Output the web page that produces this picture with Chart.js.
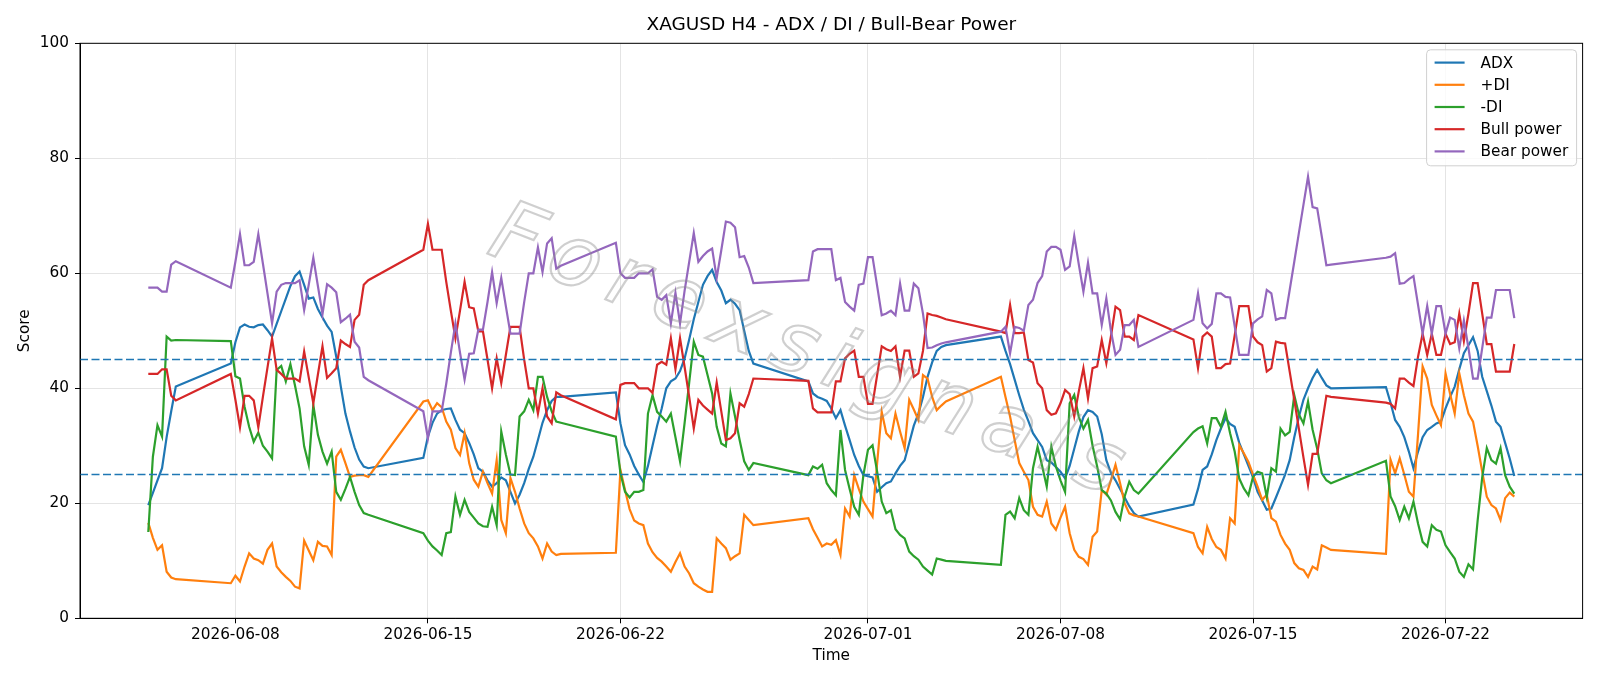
<!DOCTYPE html>
<html>
<head>
<meta charset="utf-8">
<title>XAGUSD H4 - ADX / DI / Bull-Bear Power</title>
<script src="https://cdn.jsdelivr.net/npm/chart.js@4.4.1/dist/chart.umd.min.js"></script>
<style>
    html, body { margin: 0; padding: 0; background: #fff; }
    #wrap { width: 1600px; height: 686px; }
</style>
</head>
<body>
<div id="wrap"><canvas id="adxChart" width="1600" height="686"></canvas></div>
<script>
// H4 bars come in blocks (market closed at the weekend): first bar of each block and its bar count
const sessionStarts = ['2026-06-04T20:00', '2026-06-07T20:00', '2026-06-14T20:00', '2026-06-21T20:00',
    '2026-06-28T20:00', '2026-07-05T20:00', '2026-07-12T20:00', '2026-07-19T20:00'];
const sessionBars = [7, 31, 31, 31, 31, 31, 31, 29];

const tickLabels = ['2026-06-08', '2026-06-15', '2026-06-22', '2026-07-01', '2026-07-08', '2026-07-15', '2026-07-22'];
const levels = [45, 25];

const adx = [
    19.7, 21.8, 24, 26.1, 31.5, 36, 40.3,
    44.3, 48, 50.6, 51.1, 50.7, 50.6, 51.0, 51.1, 50.1, 49.0, 51.2, 53.4, 55.6, 57.8, 59.5, 60.3, 58.0, 55.6, 55.8, 53.8, 52.3, 50.9, 49.8, 45.5, 40.3, 35.6, 32.5, 29.7, 27.6, 26.4, 26.1,
    27.9, 31.6, 34, 35.6, 36.2, 36.4, 36.5, 34.5, 32.8, 32.2, 30.5, 28.5, 26.1, 25.5, 24.0, 22.9, 23.5, 24.5, 24, 22, 20, 21.5, 23.5, 26, 28.1, 31, 34, 36.2, 37.8, 38.5, 38.5,
    39.3, 33.9, 30.1, 28.5, 26.5, 25, 23.7, 26.5, 30, 33.5, 36.5, 40, 41.2, 41.7, 43, 45.2, 48.5, 52, 55, 58, 59.5, 60.6, 58.5, 57, 54.8, 55.4, 54.7, 53.6, 50, 46.5, 44.3,
    41.2, 39.1, 38.5, 38.2, 37.8, 36.5, 34.8, 36.2, 33.5, 31, 28.4, 26.5, 24.9, 24.7, 24.5, 22, 22.8, 23.5, 23.8, 25.2, 26.5, 27.5, 30.5, 33.5, 35.6, 38.5, 42, 44.5, 46.5, 47.2, 47.5,
    49, 46.5, 44.2, 41.5, 38.8, 36.3, 34.3, 32.2, 31, 29.8, 27.5, 27.1, 26.3, 25.5, 24.35, 26.5, 29.5, 32.5, 35, 36.2, 35.9, 35.1, 32, 27.5, 25.3, 24, 22.5, 21, 19.5, 18.3, 17.7,
    19.8, 22.5, 25.8, 26.4, 28.5, 31, 33, 34.8, 33.8, 33.3, 30.5, 28.5, 26.5, 24.5, 22, 20.5, 18.9, 19.1, 21, 23, 25, 27.5, 31.5, 35, 38, 40, 41.8, 43.2, 41.8, 40.5, 40,
    40.2, 37.5, 34.5, 33.3, 31.5, 29, 26.1, 29, 31.5, 32.75, 33.3, 33.9, 34.2, 36.5, 38.5, 40.3, 43.3, 46.1, 47.5, 48.9, 46.5, 42, 39.5, 37, 34.2, 33.3, 30.5, 27.8, 24.75
];
const plusDI = [
    16.6, 14, 11.9, 12.7, 8.1, 7.1, 6.8,
    6.1, 7.4, 6.4, 9, 11.3, 10.4, 10.1, 9.5, 11.9, 13, 9.0, 8.0, 7.2, 6.5, 5.5, 5.2, 13.5, 11.8, 10.1, 13.3, 12.6, 12.5, 11.0, 28.1, 29.3, 27, 24.6, 24.8, 24.9, 24.9, 24.6,
    37.7, 37.9, 36.2, 37.4, 36.7, 34.2, 32.8, 29.6, 28.4, 32.2, 27, 24.1, 22.9, 25.5, 23.5, 21.7, 27.5, 17.1, 14.8, 24.4, 22, 19.1, 16.5, 14.8, 13.9, 12.5, 10.4, 13.0, 11.6, 11.0, 11.2,
    11.4, 25.8, 22.3, 19, 17, 16.5, 16.2, 13, 11.5, 10.5, 9.85, 9, 8.1, 9.8, 11.3, 9, 7.8, 6.1, 5.5, 5.0, 4.6, 4.6, 13.9, 13.0, 12.2, 10.2, 10.8, 11.3, 18, 17.1, 16.2,
    17.4, 15.5, 14, 12.5, 13, 12.8, 13.6, 11, 19.1, 17.7, 24.9, 22.5, 20.3, 19, 17.7, 27, 35.9, 32.2, 31.3, 35.6, 32.5, 29.6, 38, 36.3, 34.5, 42.3, 41.7, 38.5, 36.2, 37, 37.7,
    42, 38.5, 35.1, 31, 27, 25.5, 24.05, 19.4, 18, 17.7, 20.3, 16.5, 15.4, 17.5, 19.4, 14.8, 11.9, 10.7, 10.3, 9.3, 14.2, 15.1, 22.3, 21.5, 24, 26.7, 23.5, 20, 18.25, 17.9, 17.7,
    14.8, 12.4, 11.3, 15.9, 13.8, 12.4, 11.9, 10.4, 17.4, 16.5, 30.1, 28.7, 27.2, 25, 22.9, 20.6, 21.5, 17.4, 16.8, 14.5, 13, 11.9, 9.6, 8.7, 8.4, 7.2, 9, 8.5, 12.7, 12.3, 11.9,
    11.2, 27.6, 25.2, 27.8, 25, 22, 21.15, 32, 43.8, 41.7, 37.1, 35.3, 33.6, 42.6, 39, 35.6, 42.6, 38.8, 35.6, 34.2, 30, 25.5, 21.15, 19.7, 19.1, 17.1, 20.9, 21.85, 21.15
];
const minusDI = [
    15.0, 28.1, 33.6, 31.6, 49.0, 48.3, 48.4,
    48.2, 42.1, 41.7, 36.8, 33.3, 30.7, 32.3, 30.0, 29.0, 27.8, 43.2, 43.9, 41.2, 44.2, 40.5, 36.5, 29.9, 26.7, 37.1, 31.9, 29, 26.9, 29, 22, 20.6, 22.5, 24.6, 22, 19.7, 18.3, 18.0,
    14.8, 13.5, 12.5, 11.8, 11.0, 14.8, 15.0, 21.2, 18, 20.6, 18.5, 17.5, 16.5, 16, 15.9, 19.4, 16.2, 32.5, 28.5, 25, 24.9, 35.1, 36, 38, 36.2, 42, 42, 38.5, 36, 34.2, 34,
    31.6, 25.2, 22, 21, 22, 22, 22.3, 35.6, 38.8, 35.9, 35.1, 34.2, 35.6, 31.5, 27.3, 34, 41, 48.1, 45.8, 45.5, 42.3, 39.1, 33.3, 30.4, 29.9, 39.1, 35.1, 31, 27.3, 25.8, 27,
    24.9, 26.4, 26, 26.7, 23.5, 22.3, 21.4, 32.75, 25.8, 22.5, 19.4, 18, 24.9, 29.3, 30.1, 25.5, 20.3, 18.3, 18.8, 15.5, 14.5, 13.9, 11.6, 10.8, 10.2, 9, 8.3, 7.6, 10.4, 10.2, 10.0,
    9.3, 18, 18.55, 17.4, 20.9, 18.8, 18, 26.1, 29.85, 26.5, 22.9, 29.85, 26.4, 24, 22, 37.4, 38.85, 35, 33, 34.5, 30, 26.4, 22.3, 21.7, 20.5, 18.5, 17.2, 21.2, 23.75, 22.3, 21.7,
    32.4, 33, 33.4, 30.4, 34.8, 34.8, 33.3, 35.9, 32.2, 29, 24.3, 22.6, 21.4, 24.6, 25.5, 25.2, 21.1, 26.1, 25.5, 33, 31.8, 32.4, 38.8, 35.5, 33.9, 37.7, 32.8, 29.5, 25.2, 24, 23.5,
    27.4, 21.2, 19.5, 17.1, 19.4, 17.4, 20.3, 16.5, 13.3, 12.5, 16.2, 15.4, 15.1, 12.7, 11.5, 10.4, 8.1, 7.2, 9.4, 8.5, 17, 24.5, 29.6, 27.5, 26.9, 29.6, 24.9, 22.9, 21.7
];
const bullPower = [
    42.5, 42.5, 42.5, 43.3, 43.3, 38.7, 37.9,
    42.5, 38, 33.2, 38.7, 38.7, 37.9, 33.2, 38.5, 43.6, 48.7, 43.2, 42.5, 41.7, 41.7, 41.7, 41.2, 46.4, 41.9, 37.4, 42.4, 47.3, 41.8, 42.6, 43.5, 48.3, 47.7, 47.2, 51.9, 52.8, 58, 58.8,
    64.1, 68.6, 64.1, 64.1, 64.1, 58.5, 53.5, 48.7, 53.5, 58.5, 54.1, 53.9, 49.9, 49.9, 45.0, 40.0, 45.2, 40.9, 45.8, 50.7, 50.7, 50.7, 45.0, 40.0, 40.0, 35.6, 40.0, 35.1, 33.9, 39.3, 38.8,
    34.6, 40.6, 40.9, 40.9, 40.9, 40, 40, 40, 39.2, 44.1, 44.6, 44.1, 48.7, 43.3, 48.7, 43.7, 38.5, 33.0, 38, 37, 36.3, 35.6, 41, 36, 31, 31.3, 32.2, 37.4, 36.8, 39, 41.7,
    41.3, 36.5, 35.8, 35.8, 35.8, 35.8, 41.2, 41.2, 45.2, 46, 46.55, 42, 42, 37.3, 37.3, 42.3, 47.3, 46.8, 46.5, 47.3, 42, 46.55, 46.55, 42, 42.6, 46.5, 53, 52.75, 52.6, 52.3, 52,
    49.85, 49.6, 54.5, 49.6, 49.6, 49.7, 44.9, 44.5, 40.9, 40, 36.2, 35.4, 35.65, 37.4, 39.7, 39, 35.1, 39.5, 43.5, 38.25, 43.5, 43.8, 48.4, 44.35, 49, 54.2, 53.6, 49, 49, 48.4, 52.75,
    48.5, 43.5, 49, 49.7, 49, 43.5, 43.5, 44.2, 44.3, 49.2, 54.3, 54.3, 54.3, 49, 48, 47.5, 42.9, 43.5, 48.1, 47.9, 47.8, 42.9, 38, 33, 28, 23.2, 28.6, 28.6, 33.6, 38.7, 38.5,
    37.5, 37.3, 36.5, 41.7, 41.7, 41, 40.4, 45.5, 49.5, 45.8, 49.5, 45.8, 45.8, 49.5, 47.7, 48, 53, 48.2, 53, 58.3, 58.3, 53, 47.7, 47.7, 42.9, 42.9, 42.9, 42.9, 47.7
];
const bearPower = [
    57.5, 57.5, 57.5, 56.8, 56.8, 61.5, 62.1,
    57.5, 62, 66.8, 61.4, 61.4, 62, 66.8, 61.7, 56.5, 51.3, 56.8, 58, 58.3, 58.3, 58.3, 58.8, 53.6, 58, 62.7, 57.8, 52.9, 58.1, 57.5, 56.7, 51.5, 52.1, 52.8, 48.1, 47.1, 42, 41.4,
    36, 31.3, 36, 36, 36, 40.8, 46.2, 51.3, 46.2, 41.5, 46, 46.1, 50.2, 50.2, 55, 60.2, 54.8, 59.2, 54.3, 49.5, 49.5, 49.5, 55, 60, 60, 64.5, 60.2, 65.2, 66.1, 60.8, 61.3,
    65.3, 60, 59.2, 59.2, 59.2, 60, 60, 60, 60.7, 55.9, 55.4, 56.2, 51.3, 56.6, 51.3, 57, 62, 67, 62, 63, 63.8, 64.3, 59.2, 64, 69, 68.8, 68, 62.8, 63, 61, 58.3,
    58.8, 63.8, 64.2, 64.2, 64.2, 64.2, 58.8, 59.2, 55, 54.2, 53.5, 58, 58.2, 62.8, 62.8, 57.8, 52.7, 53, 53.5, 52.7, 58.2, 53.5, 53.5, 58.2, 57.4, 53, 47, 47.1, 47.5, 47.8, 48,
    49.85, 50.7, 46.1, 50.7, 50.5, 50, 54.5, 55.4, 58.3, 59.5, 63.8, 64.6, 64.6, 64.1, 60.6, 61.2, 66.5, 61.5, 56.8, 61.85, 56.5, 56.5, 51, 55.65, 50, 45.8, 46.7, 51, 51, 51.9, 47.2,
    51.9, 56.5, 51.3, 50.4, 51.2, 56.5, 56.5, 55.9, 55.8, 50.8, 45.8, 45.8, 45.8, 51.3, 52, 52.5, 57.1, 56.5, 51.9, 52.2, 52.2, 57.1, 62, 67, 71.9, 76.8, 71.5, 71.3, 66.4, 61.4, 61.5,
    62.7, 62.9, 63.5, 58.2, 58.3, 59, 59.5, 54.5, 49.5, 54.3, 49.5, 54.3, 54.3, 49.5, 52.3, 51.9, 46.95, 51.8, 47, 41.7, 41.7, 47, 52.3, 52.3, 57.1, 57.1, 57.1, 57.1, 52.2
];

// bar timestamps (ms, UTC)
const times = [];
sessionStarts.forEach(function(s, i) {
    const t0 = Date.parse(s + ':00Z');
    for (let k = 0; k < sessionBars[i]; k++) {
        times.push(t0 + k * 4 * 3600 * 1000);
    }
});
const tickValues = tickLabels.map(function(d) { return Date.parse(d + 'T00:00:00Z'); });

// matplotlib style 5% margins on the time axis
const span = times[times.length - 1] - times[0];
const xMin = times[0] - 0.05 * span;
const xMax = times[times.length - 1] + 0.05 * span;

function toPoints(values) {
    return values.map(function(v, i) { return { x: times[i], y: v }; });
}

const FONT = 'DejaVu Sans';
const seriesList = [
    { label: 'ADX', values: adx, color: '#1f77b4' },
    { label: '+DI', values: plusDI, color: '#ff7f0e' },
    { label: '-DI', values: minusDI, color: '#2ca02c' },
    { label: 'Bull power', values: bullPower, color: '#d62728' },
    { label: 'Bear power', values: bearPower, color: '#9467bd' }
];

// dashed reference lines, watermark, frame, titles and the legend box
const decorations = {
    id: 'decorations',
    afterDatasetsDraw: function(chart) {
        const ctx = chart.ctx;
        const ca = chart.chartArea;
        const yScale = chart.scales.y;

        ctx.save();
        ctx.beginPath();
        ctx.rect(ca.left, ca.top, ca.right - ca.left, ca.bottom - ca.top);
        ctx.clip();
        ctx.strokeStyle = '#1f77b4';
        ctx.lineWidth = 1.6;
        ctx.setLineDash([8, 3.5]);
        levels.forEach(function(v) {
            const y = yScale.getPixelForValue(v);
            ctx.beginPath();
            ctx.moveTo(ca.left, y);
            ctx.lineTo(ca.right, y);
            ctx.stroke();
        });
        ctx.setLineDash([]);

        // watermark
        ctx.translate(812, 356);
        ctx.rotate(0.37);
        ctx.font = 'italic 84px ' + FONT;
        ctx.letterSpacing = '13px';
        ctx.textAlign = 'center';
        ctx.textBaseline = 'middle';
        ctx.strokeStyle = 'rgba(140,140,140,0.42)';
        ctx.lineWidth = 2.2;
        ctx.strokeText('Forexsignals', 0, 0);
        ctx.restore();
    },
    afterDraw: function(chart) {
        const ctx = chart.ctx;
        const ca = chart.chartArea;
        ctx.save();

        ctx.strokeStyle = '#000';
        ctx.lineWidth = 1;
        ctx.strokeRect(ca.left, ca.top, ca.right - ca.left, ca.bottom - ca.top);

        ctx.fillStyle = '#000';
        ctx.textAlign = 'center';
        ctx.textBaseline = 'middle';
        ctx.font = '18.5px ' + FONT;
        ctx.fillText('XAGUSD H4 - ADX / DI / Bull-Bear Power', (ca.left + ca.right) / 2, 25.5);
        ctx.font = '15.3px ' + FONT;
        ctx.fillText('Time', (ca.left + ca.right) / 2, 656);
        ctx.save();
        ctx.translate(25.5, (ca.top + ca.bottom) / 2);
        ctx.rotate(-Math.PI / 2);
        ctx.fillText('Score', 0, 0);
        ctx.restore();

        // legend, upper right inside the axes
        const boxW = 150, boxH = 116;
        const bx = ca.right - 6 - boxW;
        const by = ca.top + 6.5;
        ctx.beginPath();
        ctx.roundRect(bx, by, boxW, boxH, 4);
        ctx.fillStyle = 'rgba(255,255,255,0.8)';
        ctx.fill();
        ctx.strokeStyle = '#d0d0d0';
        ctx.lineWidth = 1;
        ctx.stroke();
        ctx.textAlign = 'left';
        ctx.font = '15.3px ' + FONT;
        seriesList.forEach(function(s, i) {
            const y = by + 12.8 + i * 22.2;
            ctx.strokeStyle = s.color;
            ctx.lineWidth = 2.2;
            ctx.beginPath();
            ctx.moveTo(bx + 8, y);
            ctx.lineTo(bx + 38, y);
            ctx.stroke();
            ctx.fillStyle = '#000';
            ctx.fillText(s.label, bx + 54, y + 1);
        });
        ctx.restore();
    }
};

document.addEventListener('DOMContentLoaded', function() {
    Chart.defaults.font.family = FONT;
    Chart.defaults.color = '#000';

    const datasets = seriesList.map(function(s, i) {
        return {
            label: s.label,
            data: toPoints(s.values),
            borderColor: s.color,
            backgroundColor: s.color,
            borderWidth: 2.2,
            pointRadius: 0,
            tension: 0,
            fill: false,
            order: seriesList.length - i
        };
    });

    const ctx = document.getElementById('adxChart').getContext('2d');
    new Chart(ctx, {
        type: 'line',
        data: { datasets: datasets },
        options: {
            responsive: false,
            devicePixelRatio: 1,
            animation: false,
            layout: { padding: { top: 43.3, right: 17.4, bottom: 0, left: 0 } },
            plugins: {
                legend: { display: false },
                title: { display: false },
                tooltip: { enabled: false }
            },
            scales: {
                x: {
                    type: 'linear',
                    min: xMin,
                    max: xMax,
                    afterBuildTicks: function(scale) {
                        scale.ticks = tickValues.map(function(v) { return { value: v }; });
                    },
                    afterFit: function(scale) { scale.height = 67.7; },
                    ticks: {
                        autoSkip: false,
                        maxRotation: 0,
                        padding: 3,
                        font: { size: 15.3 },
                        color: '#000',
                        callback: function(v) { return new Date(v).toISOString().slice(0, 10); }
                    },
                    grid: { color: '#e4e4e4', lineWidth: 1, tickLength: 5, tickColor: '#000' },
                    border: { color: '#000', width: 1 }
                },
                y: {
                    min: 0,
                    max: 100,
                    afterFit: function(scale) { scale.width = 80; },
                    ticks: { stepSize: 20, padding: 6, font: { size: 15.3 }, color: '#000' },
                    grid: { color: '#e4e4e4', lineWidth: 1, tickLength: 5, tickColor: '#000' },
                    border: { color: '#000', width: 1 }
                }
            }
        },
        plugins: [decorations]
    });
});
</script>
</body>
</html>
